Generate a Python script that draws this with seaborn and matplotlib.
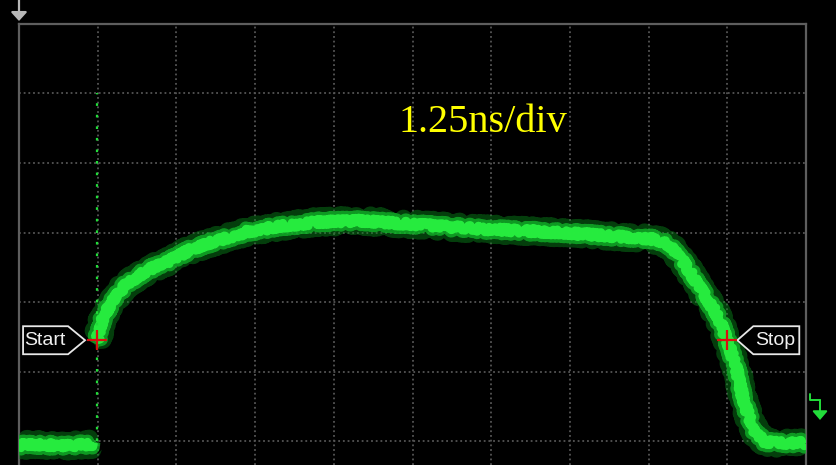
import numpy as np
import pandas as pd
import seaborn as sns
import matplotlib.pyplot as plt
from matplotlib.patches import Polygon
from matplotlib.lines import Line2D
from matplotlib.ticker import MultipleLocator
from matplotlib.transforms import ScaledTranslation

base_left_t = [-6.25, -5.90, -5.60, -5.30, -5.06]
base_left_v = [-2.06, -2.05, -2.07, -2.06, -2.04]
pulse_t = [-5.01, -4.96, -4.92, -4.73, -4.53, -4.20, -3.85, -3.53, -3.22, -2.63,
           -2.10, -1.52, -0.83, -0.04, 0.60, 1.12, 1.87, 2.50, 3.14, 3.77,
           3.93, 4.09, 4.30, 4.57, 4.84, 5.00, 5.15, 5.25, 5.36, 5.47,
           5.60, 5.84, 6.25]
pulse_v = [-0.55, -0.40, -0.22, 0.06, 0.27, 0.46, 0.60, 0.75, 0.85, 1.01,
           1.09, 1.15, 1.17, 1.12, 1.08, 1.05, 1.02, 0.99, 0.95, 0.91,
           0.88, 0.81, 0.58, 0.20, -0.19, -0.55, -0.98, -1.38, -1.70, -1.91,
           -2.01, -2.03, -2.03]
spike_t = -5.01
spike_v = [-2.0, 3.0]
cursor_t = [-5.01, 5.00]
cursor_v = [-0.55, -0.55]
cursor_names = ["Start", "Stop"]
time_per_div = 1.25
timebase_label = "1.25ns/div"

df = pd.DataFrame({
    "t": base_left_t + pulse_t,
    "v": base_left_v + pulse_v,
    "seg": [0] * len(base_left_t) + [1] * len(pulse_t),
})

sns.set_style("dark", {"axes.facecolor": "black", "figure.facecolor": "black"})

W, H = 836, 465
fig = plt.figure(figsize=(W / 100, H / 100), dpi=100)
pos = [19 / W, 0, 787 / W, 441 / H]
ylim = ((302 - 465) / 69.5, 4)
xlim = (-5 * time_per_div, 5 * time_per_div)

# eixo de fundo com as marcas da cruz central
ax2 = fig.add_axes(pos)
ax2.set_xlim(*xlim)
ax2.set_ylim(*ylim)
ax2.patch.set_visible(False)
for s in ["top", "right"]:
    ax2.spines[s].set_visible(False)
for s in ["left", "bottom"]:
    ax2.spines[s].set_position(("data", 0))
    ax2.spines[s].set_color("none")
ax2.xaxis.set_major_locator(MultipleLocator(time_per_div))
ax2.xaxis.set_minor_locator(MultipleLocator(time_per_div / 5))
ax2.yaxis.set_major_locator(MultipleLocator(1))
ax2.yaxis.set_minor_locator(MultipleLocator(0.25))
ax2.tick_params(which="both", direction="inout", length=6, width=1.4,
                color="#5c5c5c", labelbottom=False, labelleft=False)

# eixo principal
ax = fig.add_axes(pos)
ax.set_zorder(2)
ax.patch.set_visible(False)
ax.set_xlim(*xlim)
ax.set_ylim(*ylim)
ax.set_xticks(np.arange(xlim[0], xlim[1] + 0.01, time_per_div))
ax.set_yticks(np.arange(-2, 4.01, 1))
ax.tick_params(length=0, labelbottom=False, labelleft=False)
ax.grid(True, color="#555555", linestyle=(0, (1, 1.6)), linewidth=1.3)
ax.set_axisbelow(True)
for s in ["top", "left", "right"]:
    ax.spines[s].set_color("#5e5e5e")
    ax.spines[s].set_linewidth(1.6)
ax.spines["bottom"].set_visible(False)

# traço verde, em camadas com contorno "ruidoso" (efeito sketch)
layers = [
    dict(color="#0a8a1c", linewidth=13, alpha=0.45, sketch=(6, 2, 8)),
    dict(color="#12b82a", linewidth=9.5, alpha=0.75, sketch=(4, 2, 6)),
    dict(color="#28f040", linewidth=6, alpha=0.95, sketch=(3, 2, 6)),
]
for i, lay in enumerate(layers):
    n0 = len(ax.lines)
    sns.lineplot(data=df, x="t", y="v", units="seg", estimator=None, sort=False,
                 color=lay["color"], linewidth=lay["linewidth"], alpha=lay["alpha"],
                 solid_capstyle="butt", ax=ax, zorder=3 + i * 0.1)
    for ln in ax.lines[n0:]:
        ln.set_sketch_params(*lay["sketch"])
ax.vlines(spike_t, spike_v[0], spike_v[1], colors="#22dd3a",
          linestyles=(0, (1.2, 4)), linewidth=1.6, zorder=4)
ax.set_xlabel("")
ax.set_ylabel("")

# cursores Start / Stop
sns.scatterplot(x=cursor_t, y=cursor_v, marker="+", s=220, color="#d81010",
                linewidth=1.6, ax=ax, zorder=7, legend=False)
tags = {
    "Start": ([(-74, 14), (-29, 14), (-12, 0), (-29, -14), (-74, -14)], -52),
    "Stop": ([(10, 0), (26, 14), (72, 14), (72, -14), (26, -14)], 48),
}
label_font = ["Liberation Sans Narrow", "DejaVu Sans Condensed", "Liberation Sans"]
for name, t, v in zip(cursor_names, cursor_t, cursor_v):
    verts, tx = tags[name]
    trans = fig.dpi_scale_trans + ScaledTranslation(t, v, ax.transData)
    ax.add_patch(Polygon(np.array(verts) / 100, closed=True, transform=trans,
                         facecolor="black", edgecolor="#e8e8e8", linewidth=1.3,
                         zorder=6, clip_on=False))
    ax.text(tx / 100, -0.005, name, transform=trans, ha="center", va="center",
            color="#f0f0f0", fontsize=14, family=label_font, zorder=8)

# escala de tempo
fig.text(398 / W, 1 - 132 / H, timebase_label, color="#ffff00", fontsize=29,
         family=["Liberation Serif", "DejaVu Serif"], ha="left", va="baseline")

# seta de gatilho (topo) e marcador de referência (direita)
ax.annotate("", xy=(19, H - 21), xytext=(19, H + 1), xycoords="figure pixels",
            textcoords="figure pixels", annotation_clip=False,
            arrowprops=dict(arrowstyle="-|>,head_length=0.35,head_width=0.32",
                            color="#b8b8b8", lw=1.6, mutation_scale=15,
                            shrinkA=0, shrinkB=0))
fig.add_artist(Line2D(np.array([810, 810, 820]) / W,
                      1 - np.array([394, 400, 400]) / H,
                      transform=fig.transFigure, color="#22dd3a", lw=1.4))
ax.annotate("", xy=(820, H - 420), xytext=(820, H - 400), xycoords="figure pixels",
            textcoords="figure pixels", annotation_clip=False,
            arrowprops=dict(arrowstyle="-|>,head_length=0.35,head_width=0.3",
                            color="#22dd3a", lw=1.4, mutation_scale=15,
                            shrinkA=0, shrinkB=0))

fig.savefig("out.png", dpi=100, facecolor="black")
